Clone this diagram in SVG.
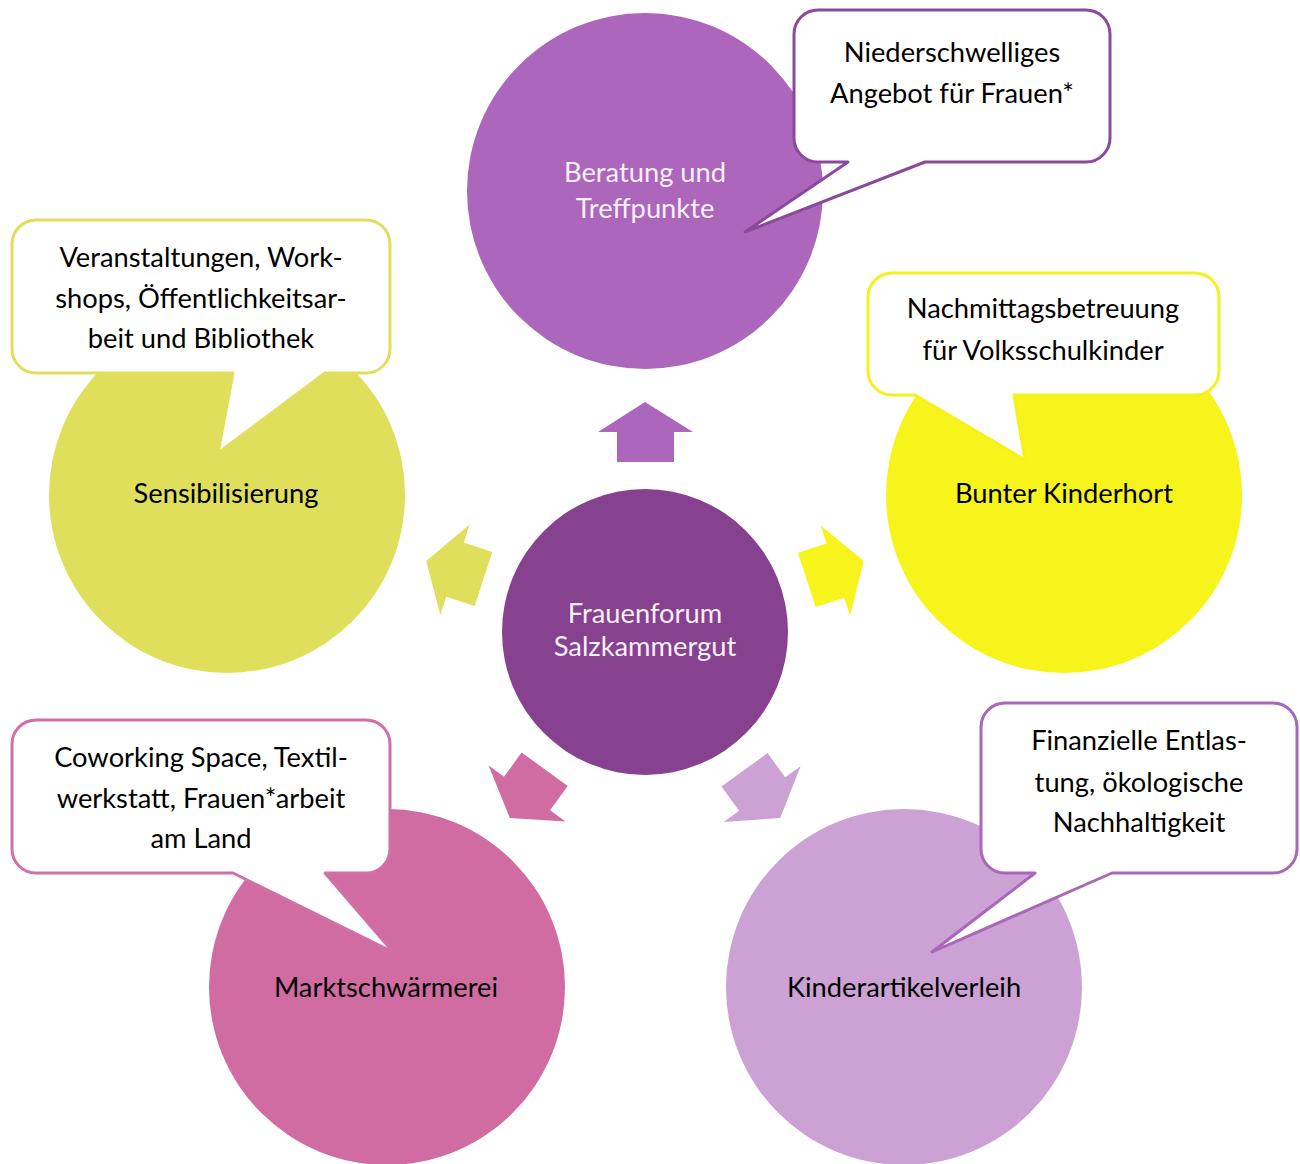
<svg xmlns="http://www.w3.org/2000/svg" width="1300" height="1164" viewBox="0 0 1300 1164">
<style>
  .t { font-family: Lato, "Open Sans", sans-serif; font-size: 27.3px; text-anchor: middle; }
  .dark { fill: #000000; }
  .light { fill: #F8F0F8; }
  .callout { fill: #FFFFFF; stroke-width: 3; stroke-linejoin: round; }
</style>
<defs>
  <polygon id="arr" points="645,402 693,432 674,432 674,462 617,462 617,432 598,432"/>
</defs>
<rect width="1300" height="1164" fill="#FFFFFF"/>

<g id="node-beratung">
  <circle cx="645" cy="191" r="178" fill="#AC66BB"/>
  <text class="t light" x="645" y="182">Beratung und</text>
  <text class="t light" x="645" y="218">Treffpunkte</text>
</g>
<g id="node-sensibilisierung">
  <circle cx="227" cy="495" r="178" fill="#DFDF5C"/>
  <text class="t dark" x="226" y="503">Sensibilisierung</text>
</g>
<g id="node-kinderhort">
  <circle cx="1064" cy="495" r="178" fill="#F7F41C"/>
  <text class="t dark" x="1064" y="503">Bunter Kinderhort</text>
</g>
<g id="node-markt">
  <circle cx="387" cy="987" r="178" fill="#D06CA1"/>
  <text class="t dark" x="386" y="997">Marktschwärmerei</text>
</g>
<g id="node-verleih">
  <circle cx="904" cy="987" r="178" fill="#CCA1D4"/>
  <text class="t dark" x="904" y="997">Kinderartikelverleih</text>
</g>
<g id="node-center">
  <circle cx="645" cy="632" r="143" fill="#86418F"/>
  <text class="t light" x="645" y="623">Frauenforum</text>
  <text class="t light" x="645" y="656">Salzkammergut</text>
</g>

<g id="connectors">
  <use href="#arr" fill="#AC66BB"/>
  <use href="#arr" fill="#DFDF5C" transform="rotate(-72 645 632)"/>
  <use href="#arr" fill="#F7F41C" transform="rotate(72 645 632)"/>
  <use href="#arr" fill="#D06CA1" transform="rotate(-144 645 632)"/>
  <use href="#arr" fill="#CCA1D4" transform="rotate(144 645 632)"/>
</g>

<g id="callout-beratung">
  <path class="callout" stroke="#8A4A9C" d="M818,10 H1086 A24,24 0 0 1 1110,34 V138 A24,24 0 0 1 1086,162 H925 L745,232 L848,162 H818 A24,24 0 0 1 794,138 V34 A24,24 0 0 1 818,10 Z"/>
  <text class="t dark" x="952" y="62">Niederschwelliges</text>
  <text class="t dark" x="952" y="103">Angebot für Frauen*</text>
</g>
<g id="callout-sensibilisierung">
  <path class="callout" stroke="#DFDF5C" d="M36,220 H366 A24,24 0 0 1 390,244 V349 A24,24 0 0 1 366,373 H325 L218,453 L233,373 H36 A24,24 0 0 1 12,349 V244 A24,24 0 0 1 36,220 Z"/>
  <text class="t dark" x="201" y="267">Veranstaltungen, Work-</text>
  <text class="t dark" x="201" y="308">shops, Öffentlichkeitsar-</text>
  <text class="t dark" x="201" y="348">beit und Bibliothek</text>
</g>
<g id="callout-kinderhort">
  <path class="callout" stroke="#F5F01E" d="M892,273 H1195 A24,24 0 0 1 1219,297 V371 A24,24 0 0 1 1195,395 H1014 L1025,460 L915,395 H892 A24,24 0 0 1 868,371 V297 A24,24 0 0 1 892,273 Z"/>
  <text class="t dark" x="1043" y="318">Nachmittagsbetreuung</text>
  <text class="t dark" x="1043" y="360">für Volksschulkinder</text>
</g>
<g id="callout-markt">
  <path class="callout" stroke="#D070A5" d="M36,720 H366 A24,24 0 0 1 390,744 V849 A24,24 0 0 1 366,873 H325 L393,952 L233,873 H36 A24,24 0 0 1 12,849 V744 A24,24 0 0 1 36,720 Z"/>
  <text class="t dark" x="201" y="767">Coworking Space, Textil-</text>
  <text class="t dark" x="201" y="808">werkstatt, Frauen*arbeit</text>
  <text class="t dark" x="201" y="848">am Land</text>
</g>
<g id="callout-verleih">
  <path class="callout" stroke="#A867B8" d="M1005,703 H1273 A24,24 0 0 1 1297,727 V849 A24,24 0 0 1 1273,873 H1112 L932,952 L1035,873 H1005 A24,24 0 0 1 981,849 V727 A24,24 0 0 1 1005,703 Z"/>
  <text class="t dark" x="1139" y="750">Finanzielle Entlas-</text>
  <text class="t dark" x="1139" y="792">tung, ökologische</text>
  <text class="t dark" x="1139" y="832">Nachhaltigkeit</text>
</g>
</svg>
